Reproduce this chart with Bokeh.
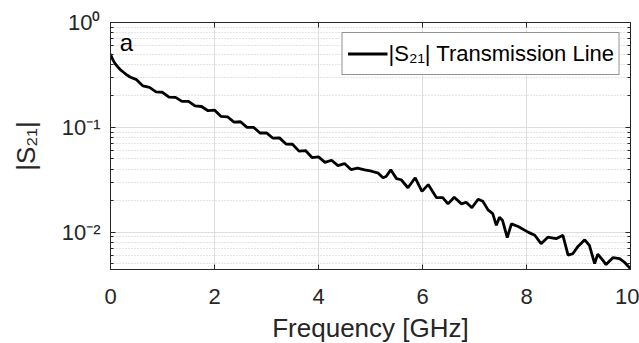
from bokeh.plotting import figure
from bokeh.models import (Range1d, FixedTicker, CustomJSTickFormatter, LinearAxis,
                          LogAxis, Label, Legend, LegendItem)
from bokeh.embed import file_html
from bokeh.resources import INLINE

# ---- data ----
freq_ghz = [0.00, 0.03, 0.06, 0.10, 0.15, 0.20, 0.25, 0.30, 0.375,
            0.500, 0.625, 0.750, 0.875, 1.000, 1.125, 1.250, 1.375, 1.500,
            1.625, 1.750, 1.875, 2.000, 2.125, 2.250, 2.375, 2.500, 2.625,
            2.750, 2.875, 3.000, 3.125, 3.250, 3.375, 3.500, 3.625, 3.750,
            3.875, 4.000, 4.125, 4.250, 4.375, 4.500, 4.625, 4.750,
            4.89, 5.02, 5.15, 5.24, 5.30, 5.39, 5.50, 5.59, 5.72, 5.86,
            5.99, 6.11, 6.27, 6.39, 6.49, 6.61, 6.75, 6.84, 6.95, 7.07,
            7.16, 7.26, 7.35, 7.42, 7.48, 7.54, 7.63, 7.71, 7.84, 8.03,
            8.16, 8.28, 8.41, 8.57, 8.70, 8.80, 8.89, 8.99, 9.12, 9.21,
            9.31, 9.37, 9.47, 9.53, 9.66, 9.79, 9.88, 10.00]
s21_mag = [0.500, 0.457, 0.427, 0.398, 0.372, 0.351, 0.335, 0.320, 0.302,
           0.285, 0.248, 0.240, 0.218, 0.216, 0.194, 0.193, 0.177, 0.177,
           0.160, 0.158, 0.144, 0.146, 0.127, 0.126, 0.112, 0.113, 0.100,
           0.100, 0.0883, 0.0885, 0.0787, 0.0793, 0.0692, 0.0689, 0.0593, 0.0600,
           0.0515, 0.0522, 0.0463, 0.0485, 0.0431, 0.0451, 0.0395, 0.0408,
           0.0393, 0.0381, 0.0365, 0.0330, 0.0339, 0.0393, 0.0324, 0.0316, 0.0265, 0.0330,
           0.0245, 0.0284, 0.0213, 0.0213, 0.0186, 0.0215, 0.0186, 0.0193, 0.0171, 0.0206,
           0.0197, 0.0163, 0.0150, 0.0116, 0.0139, 0.0129, 0.00885, 0.0120, 0.0113, 0.0100,
           0.00933, 0.00776, 0.00895, 0.00865, 0.00933, 0.00603, 0.00622, 0.00731, 0.00845, 0.00746,
           0.00501, 0.00617, 0.00537, 0.00490, 0.00570, 0.00558, 0.00518, 0.00447]

x_ticks = [0, 2, 4, 6, 8, 10]
y_ticks = [0.01, 0.1, 1.0]
y_tick_labels = ["10\u207b\u00b2", "10\u207b\u00b9", "10\u2070"]
y_minor_ticks = [0.005, 0.006, 0.007, 0.008, 0.009,
                 0.02, 0.03, 0.04, 0.05, 0.06, 0.07, 0.08, 0.09,
                 0.2, 0.3, 0.4, 0.5, 0.6, 0.7, 0.8, 0.9]
x_limits = (0, 10)
y_limits = (0.0044, 1.0)
legend_label = "|S\u2082\u2081| Transmission Line"
x_label = "Frequency [GHz]"
y_label = "|S\u2082\u2081|"
panel_label = "a"

FONT = "Liberation Sans"
DARK = "#262626"
GRID = "#dedede"
MINOR = "#c9c9c9"

p = figure(frame_width=520, frame_height=247, y_axis_type="log",
           x_range=Range1d(*x_limits), y_range=Range1d(*y_limits),
           output_backend="svg", toolbar_location=None,
           min_border_left=110, min_border_right=9, min_border_top=22,
           min_border_bottom=74, outline_line_color=DARK, outline_line_width=1)
p.background_fill_color = "white"
p.border_fill_color = "white"

r = p.line(freq_ghz, s21_mag, line_color="black", line_width=2.8)

fmt = CustomJSTickFormatter(args=dict(tvals=y_ticks, tlabels=y_tick_labels), code="""
for (let i = 0; i < tvals.length; i++) {
  if (Math.abs(Math.log10(tvals[i]) - Math.log10(tick)) < 1e-6) return tlabels[i];
}
return "";
""")
blank = CustomJSTickFormatter(code="return '';")

# bottom axis
xa = p.xaxis[0]
xa.ticker = FixedTicker(ticks=x_ticks)
xa.axis_label = x_label
# left axis
ya = p.yaxis[0]
ya.ticker = FixedTicker(ticks=y_ticks, minor_ticks=y_minor_ticks)
ya.formatter = fmt
ya.axis_label = y_label

for ax in (xa, ya):
    ax.axis_line_color = DARK
    ax.major_tick_line_color = DARK
    ax.minor_tick_line_color = DARK
    ax.major_tick_in = 5
    ax.major_tick_out = 0
    ax.minor_tick_in = 3
    ax.minor_tick_out = 0
    ax.major_label_text_font = FONT
    ax.major_label_text_font_size = "22px"
    ax.major_label_text_color = DARK
    ax.axis_label_text_font = FONT
    ax.axis_label_text_font_size = "26px"
    ax.axis_label_text_font_style = "normal"
    ax.axis_label_text_color = DARK
xa.minor_tick_line_color = None
xa.major_label_standoff = 19
xa.axis_label_standoff = 6
ya.major_label_standoff = 10
ya.axis_label_standoff = 18

# top and right (box) axes with ticks only
top = LinearAxis(ticker=FixedTicker(ticks=x_ticks), formatter=blank,
                 major_tick_in=5, major_tick_out=0, minor_tick_line_color=None,
                 axis_line_color=DARK, major_tick_line_color=DARK, major_label_standoff=0)
right = LogAxis(ticker=FixedTicker(ticks=y_ticks, minor_ticks=y_minor_ticks), formatter=blank,
                major_tick_in=5, major_tick_out=0,
                minor_tick_in=3, minor_tick_out=0, axis_line_color=DARK,
                major_tick_line_color=DARK, minor_tick_line_color=DARK,
                major_label_standoff=0)
p.add_layout(top, "above")
p.add_layout(right, "right")

# grids
p.xgrid.ticker = FixedTicker(ticks=x_ticks)
p.xgrid.grid_line_color = GRID
p.ygrid.ticker = FixedTicker(ticks=y_ticks, minor_ticks=y_minor_ticks)
p.ygrid.grid_line_color = GRID
p.ygrid.minor_grid_line_color = MINOR
p.ygrid.minor_grid_line_dash = "1 2"

legend = Legend(items=[LegendItem(label=legend_label, renderers=[r])],
                location="top_right", margin=10, padding=5, spacing=0,
                glyph_width=40, glyph_height=31, label_height=31, label_standoff=1,
                label_text_font=FONT, label_text_font_size="22px", label_text_color="black",
                border_line_color=DARK, border_line_width=1, background_fill_alpha=1.0)
p.add_layout(legend)

p.add_layout(Label(x=0.18, y=0.65, text=panel_label, text_font=FONT,
                   text_font_size="24px", text_color="black", text_baseline="alphabetic"))

open("out.html", "w").write(file_html(p, INLINE))
